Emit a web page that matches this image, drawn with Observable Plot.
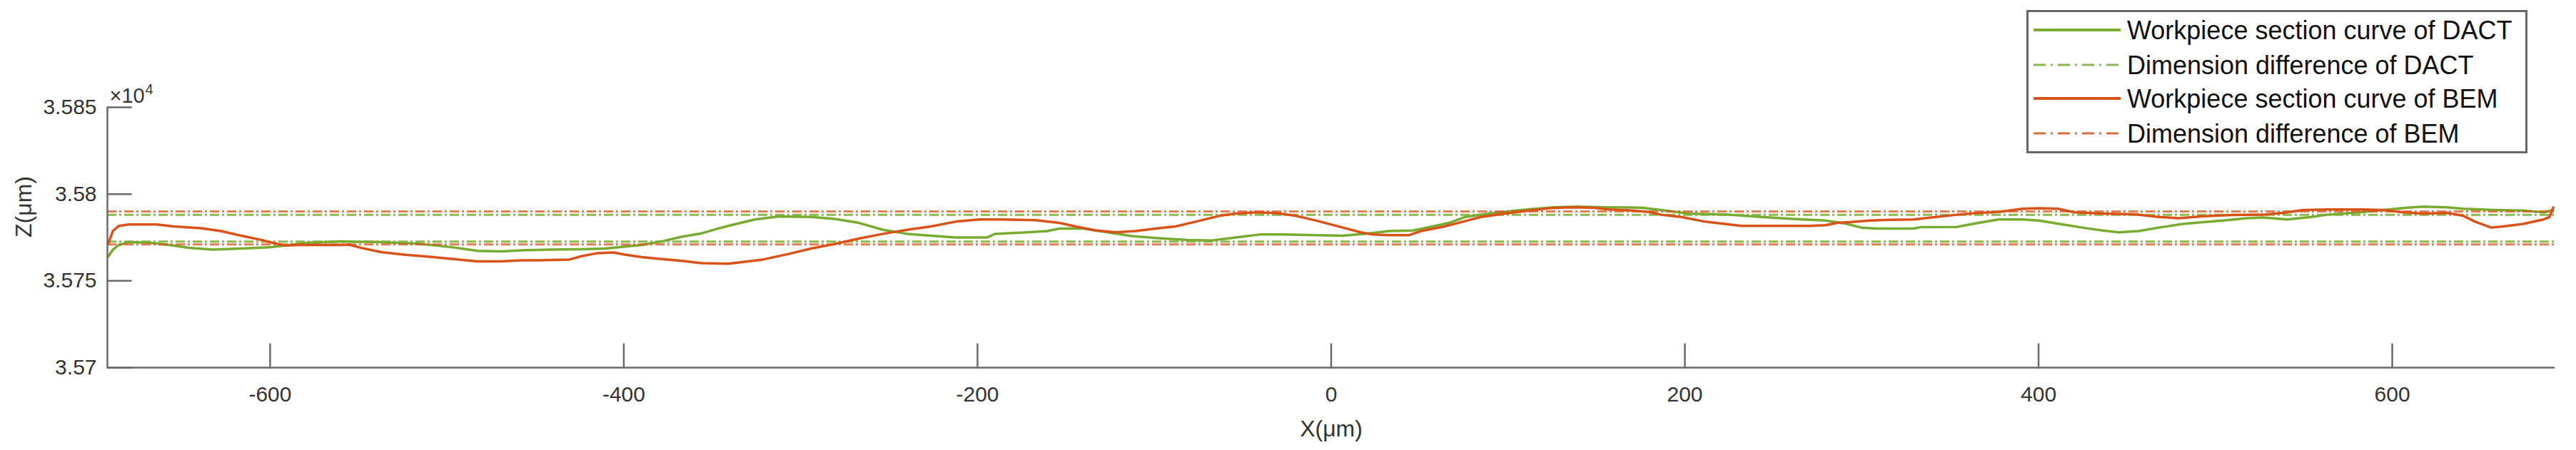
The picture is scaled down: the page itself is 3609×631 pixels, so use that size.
<!DOCTYPE html>
<html><head><meta charset="utf-8">
<script src="https://cdn.jsdelivr.net/npm/d3@7"></script>
<script src="https://cdn.jsdelivr.net/npm/@observablehq/plot@0.6"></script>
<style>
html,body{margin:0;padding:0;background:#fff;}
#wrap{position:relative;width:3609px;height:631px;font-family:"Liberation Sans",Arial,Helvetica,sans-serif;}
#legend{position:absolute;left:2839px;top:14px;}
</style></head><body><div id="wrap"></div>
<script>
// ---- data (X in µm, Z in µm) ----
const xTicks = [-600, -400, -200, 0, 200, 400, 600];
const xTickLabels = ["-600", "-400", "-200", "0", "200", "400", "600"];
const yTicks = [35700, 35750, 35800, 35850];
const yTickLabels = ["3.57", "3.575", "3.58", "3.585"];
const xDomain = [-692, 692];
const yDomain = [35700, 35850];

const dactX = [-691.6,-688.9,-685.5,-679.8,-668.5,-657.2,-645.9,-632.3,-616.4,-600.6,-591.5,-577.9,-559.8,-537.2,-514.5,-496.4,-482.8,-469.2,-455.6,-442.0,-423.9,-410.3,-401.3,-389.9,-378.6,-367.3,-356.0,-346.9,-339.4,-325.9,-312.3,-294.1,-280.6,-267.0,-253.4,-239.8,-226.2,-212.6,-194.5,-190.0,-171.8,-160.5,-153.7,-140.1,-126.5,-112.9,-99.3,-81.2,-67.6,-54.0,-40.5,-26.9,-8.8,6.6,21.3,32.6,46.2,57.5,66.6,75.6,89.2,107.3,125.4,139.0,157.2,175.3,186.6,202.4,225.1,243.2,261.3,279.5,290.8,299.8,308.9,329.3,333.8,353.7,363.8,377.4,391.0,400.1,413.7,427.2,436.3,445.4,456.7,468.0,481.6,492.9,504.3,517.8,526.9,540.5,554.1,563.1,572.2,583.5,594.9,608.4,617.5,631.1,640.2,658.3,674.1,685.5,691.0];
const dactZ = [35763.9,35768.0,35770.7,35772.3,35772.0,35770.7,35769.0,35768.0,35768.6,35769.3,35770.4,35772.0,35772.7,35772.3,35771.3,35769.3,35767.3,35767.0,35767.7,35768.0,35768.2,35768.6,35769.6,35770.7,35772.7,35775.4,35777.4,35780.1,35782.1,35785.4,35787.1,35786.8,35785.7,35783.4,35779.4,35777.1,35776.0,35775.0,35775.0,35777.1,35778.0,35778.7,35780.1,35780.1,35778.0,35775.8,35774.7,35773.6,35773.3,35775.0,35776.7,35776.7,35776.3,35776.0,35777.4,35778.7,35779.0,35781.4,35783.4,35786.8,35788.8,35790.8,35792.4,35792.8,35792.4,35792.2,35790.8,35788.8,35788.1,35786.8,35785.7,35784.8,35783.0,35780.7,35780.1,35780.1,35781.0,35781.1,35783.0,35785.4,35785.4,35784.8,35782.5,35780.3,35779.0,35778.0,35778.7,35780.7,35782.8,35783.8,35784.8,35786.1,35786.5,35785.4,35786.8,35788.1,35788.8,35789.7,35790.8,35792.2,35792.8,35792.4,35791.5,35790.8,35790.5,35789.5,35790.8];

const bemX = [-691.6,-688.9,-685.5,-679.8,-664.0,-654.9,-639.1,-627.8,-616.4,-605.1,-596.0,-591.5,-582.4,-559.8,-555.3,-548.5,-537.2,-523.6,-510.0,-496.4,-482.8,-469.2,-457.9,-446.6,-430.7,-423.9,-414.8,-405.8,-399.0,-389.9,-378.6,-367.3,-356.0,-340.6,-334.9,-321.3,-307.7,-294.1,-280.6,-267.0,-253.4,-239.8,-226.2,-212.6,-199.0,-185.4,-167.3,-153.7,-144.7,-133.3,-122.0,-110.7,-99.3,-88.0,-76.7,-63.1,-54.0,-42.7,-31.4,-20.1,-8.8,6.6,16.7,23.5,32.6,43.9,50.7,64.3,75.6,84.7,98.3,111.9,123.2,134.5,148.1,157.2,170.7,179.8,186.6,197.9,211.5,225.1,231.9,247.8,270.4,279.5,286.2,293.1,304.4,315.7,329.3,338.4,353.7,366.1,377.4,391.0,400.1,411.4,420.4,436.3,454.4,468.0,479.3,492.9,508.8,526.9,538.2,549.6,563.1,583.5,594.9,606.2,617.5,631.1,640.2,646.9,656.0,662.8,674.1,685.5,688.9,691.0];
const bemZ = [35771.3,35778.7,35781.7,35782.5,35782.5,35781.4,35780.3,35778.7,35776.0,35773.6,35771.3,35770.4,35770.7,35770.7,35770.9,35769.0,35766.6,35765.0,35763.9,35762.6,35761.2,35761.2,35761.8,35761.9,35762.3,35764.2,35766.0,35766.4,35765.0,35763.7,35762.6,35761.5,35760.2,35759.9,35760.6,35762.3,35765.3,35768.6,35771.3,35774.4,35777.1,35779.4,35781.4,35784.1,35785.4,35785.4,35785.0,35783.4,35781.4,35779.1,35778.0,35778.7,35780.1,35781.4,35784.1,35787.5,35788.8,35789.5,35789.1,35787.5,35784.8,35780.7,35778.0,35776.7,35776.3,35776.3,35778.7,35781.4,35784.4,35786.8,35788.8,35790.5,35791.8,35792.4,35792.2,35791.1,35790.5,35789.7,35788.1,35786.8,35784.1,35782.5,35781.7,35781.7,35781.7,35782.1,35783.4,35783.8,35784.8,35785.2,35785.4,35786.4,35788.1,35789.2,35789.7,35791.5,35791.9,35791.5,35789.5,35788.8,35788.4,35786.8,35786.1,35787.2,35787.9,35788.1,35789.2,35790.8,35791.1,35791.1,35790.8,35789.5,35788.8,35789.2,35787.5,35784.1,35780.7,35781.4,35782.8,35785.4,35786.8,35792.2];

const dactDim = [35772.6, 35788.0];
const bemDim = [35771.0, 35790.0];

const legendLabels = ["Workpiece section curve of DACT", "Dimension difference of DACT", "Workpiece section curve of BEM", "Dimension difference of BEM"];

// ---- styles ----
const GREEN = "#77AC30", ORANGE = "#D95319";
const AXIS = "#6a6a6a", TEXT = "#333";
const DASH = "13,4,3,4";
const FONT = '"Liberation Sans", Arial, Helvetica, sans-serif';
const TICK = 33;
const tickShape = {draw(context, l) { context.moveTo(0, 0); context.lineTo(0, -l); }};

const dactRows = dactX.map((x, i) => ({x, z: dactZ[i]}));
const bemRows = bemX.map((x, i) => ({x, z: bemZ[i]}));

const chart = Plot.plot({
  width: 3609, height: 631,
  marginLeft: 150, marginRight: 30, marginTop: 150, marginBottom: 116,
  style: {fontFamily: FONT, background: "#fff", overflow: "visible"},
  x: {domain: xDomain},
  y: {domain: yDomain},
  marks: [
    Plot.ruleY(dactDim, {stroke: GREEN, strokeWidth: 3, strokeDasharray: DASH, strokeOpacity: 0.85}),
    Plot.line(dactRows, {x: "x", y: "z", stroke: GREEN, strokeWidth: 3.5}),
    Plot.ruleY(bemDim, {stroke: ORANGE, strokeWidth: 3, strokeDasharray: DASH, strokeOpacity: 0.75}),
    Plot.line(bemRows, {x: "x", y: "z", stroke: ORANGE, strokeWidth: 3.5}),
    Plot.ruleX([xDomain[0]], {stroke: AXIS, strokeWidth: 2.5}),
    Plot.ruleY([yDomain[0]], {stroke: AXIS, strokeWidth: 2.5}),
    // inward ticks
    Plot.vector(xTicks, {x: d => d, y: yDomain[0], length: TICK, rotate: 0, anchor: "start", shape: tickShape, stroke: AXIS, strokeWidth: 2.5}),
    Plot.vector(yTicks, {x: xDomain[0], y: d => d, length: TICK, rotate: 90, anchor: "start", shape: tickShape, stroke: AXIS, strokeWidth: 2.5}),
    Plot.axisX({ticks: xTicks, tickFormat: d => xTickLabels[xTicks.indexOf(d)], tickSize: 0, tickPadding: 26,
      fontSize: 30, fill: TEXT, label: null}),
    Plot.axisY({ticks: yTicks, tickFormat: d => yTickLabels[yTicks.indexOf(d)], tickSize: 0, tickPadding: 15,
      fontSize: 30, fill: TEXT, label: null}),
    Plot.text(["×10"], {text: d => d, frameAnchor: "top-left", dx: 3, dy: -7, textAnchor: "start", lineAnchor: "bottom", fontSize: 29, fill: TEXT}),
    Plot.text(["4"], {text: d => d, frameAnchor: "top-left", dx: 53, dy: -19, textAnchor: "start", lineAnchor: "bottom", fontSize: 20, fill: TEXT}),
    Plot.text(["Z(μm)"], {text: d => d, frameAnchor: "left", dx: -117, rotate: -90, fontSize: 32, fill: TEXT}),
    Plot.text(["X(μm)"], {text: d => d, frameAnchor: "bottom", dy: 96, fontSize: 32, fill: TEXT})
  ]
});
const wrap = document.getElementById("wrap");
wrap.appendChild(chart);

// ---- legend ----
const legendColors = [GREEN, GREEN, ORANGE, ORANGE];
const legendDash = [null, "17,7,3,7", null, "17,7,3,7"];
const legendY = [28, 77, 124, 173];
const lg = d3.create("svg").attr("id", "legend").attr("width", 702).attr("height", 201)
  .style("font-family", FONT);
lg.append("rect").attr("x", 1.5).attr("y", 1.5).attr("width", 699).attr("height", 198)
  .attr("fill", "#fff").attr("stroke", "#666").attr("stroke-width", 3);
legendLabels.forEach((lab, i) => {
  const g = lg.append("g");
  g.append("line").attr("x1", 10).attr("x2", 132).attr("y1", legendY[i]).attr("y2", legendY[i])
    .attr("stroke", legendColors[i]).attr("stroke-width", legendDash[i] ? 3 : 4)
    .attr("stroke-dasharray", legendDash[i]).attr("stroke-opacity", legendDash[i] ? 0.85 : 1);
  g.append("text").attr("x", 141).attr("y", legendY[i]).attr("dy", "0.35em")
    .attr("font-size", 36).attr("fill", "#111").text(lab);
});
wrap.appendChild(lg.node());
</script>
</body></html>
